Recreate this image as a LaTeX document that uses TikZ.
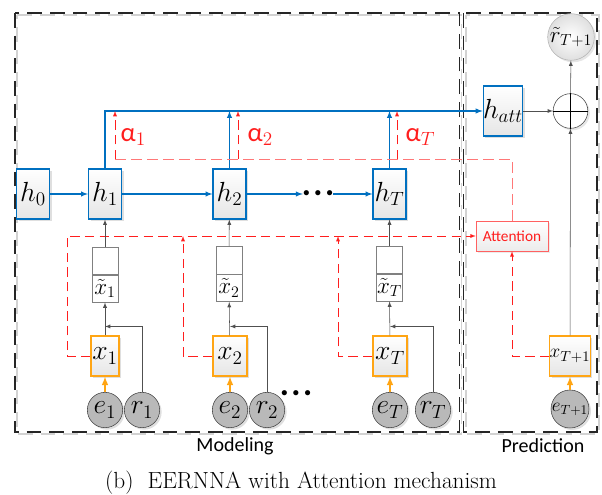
\documentclass[tikz,border=0pt]{standalone}
\usepackage{amsmath}
\usepackage{fontspec}
\usepackage{xcolor}
\usetikzlibrary{shapes,arrows,positioning,calc,shadows}
\newfontfamily\calibri{Carlito}
\definecolor{hblue}{RGB}{0,112,192}
\definecolor{xorange}{RGB}{255,165,20}
\definecolor{attred}{RGB}{255,30,30}
\definecolor{linegray}{RGB}{80,80,80}

\begin{document}
\begin{tikzpicture}[x=0.75pt, y=-0.75pt, >=latex,
    hbox/.style={draw=hblue, thick, rectangle, top color=white, bottom color=gray!20, minimum width=24.75pt, minimum height=37.5pt, inner sep=0pt, drop shadow={opacity=0.25, shadow xshift=1.5pt, shadow yshift=-1.5pt}, font=\fontsize{20}{24}\selectfont},
    xbox/.style={draw=xorange, thick, rectangle, top color=white, bottom color=gray!20, minimum height=30pt, inner sep=0pt, drop shadow={opacity=0.25, shadow xshift=1.5pt, shadow yshift=-1.5pt}, font=\fontsize{20}{24}\selectfont},
    xtbox/.style={draw=gray, rectangle, fill=white, minimum width=19.5pt, minimum height=20.5pt, inner sep=0pt, font=\fontsize{17}{20}\selectfont},
    inball/.style={draw=gray!50!black, circle, fill=gray!55, minimum size=26.5pt, inner sep=0pt, drop shadow={opacity=0.25, shadow xshift=1.5pt, shadow yshift=-1.5pt}, font=\fontsize{20}{24}\selectfont},
    flow/.style={->, draw=hblue, thick},
    feed/.style={->, draw=linegray},
    embed/.style={->, draw=xorange, very thick},
    attn/.style={->, draw=attred, dash pattern=on 7pt off 4pt},
    alabel/.style={text=attred, anchor=west, font=\calibri\fontsize{20}{24}\selectfont},
    dotrow/.style={inner sep=0pt, font=\normalsize},
    frame/.style={draw=black!85, line width=1.2pt, dash pattern=on 11pt off 6pt},
    frameshade/.style={draw=gray!35, line width=1.2pt, dash pattern=on 11pt off 6pt, dash phase=8pt}]
    \useasboundingbox (0,0) rectangle (602,495);

    \draw[frameshade] (17,15) rectangle (461.5,434);
    \draw[frame] (15,13) rectangle (459.5,432);
    \draw[frameshade] (466,15) rectangle (599,434);
    \draw[frame] (463.5,13) rectangle (597,432);

    \node (h0) [hbox] at (33,194) {$h_0$};
    \node (h1) [hbox] at (105,194) {$h_1$};
    \node (h2) [hbox] at (229.5,194) {$h_2$};
    \node (dots) [dotrow] at (318,194) {$\bullet\hspace{1.5pt}\bullet\hspace{1.5pt}\bullet$};
    \node (hT) [hbox] at (389.5,194) {$h_T$};
    \node (hatt) [hbox, minimum width=27pt] at (503,111) {$h_{att}$};
    \node (plus) [draw=gray!50!black, circle, fill=white, minimum size=26pt, inner sep=0pt, drop shadow={opacity=0.2, shadow xshift=1.5pt, shadow yshift=-1.5pt}] at (570.5,111) {};
    \node (rt) [draw=gray!60, circle, inner color=white, outer color=gray!25, minimum size=35pt, inner sep=0pt, drop shadow={opacity=0.2, shadow xshift=1.5pt, shadow yshift=-1.5pt}, font=\fontsize{18}{22}\selectfont] at (571,37) {$\tilde{r}_{T+1}$};
    \node (att) [draw=attred!70, rectangle, top color=white, bottom color=gray!15, minimum width=54pt, minimum height=22.5pt, text=attred, font=\calibri\fontsize{11.5}{14}\selectfont, drop shadow={opacity=0.15, shadow xshift=1.5pt, shadow yshift=-1.5pt}] at (512,236) {Attention};

    \node (xt1) [xtbox] at (105,288.5) {$\tilde{x}_1$};
    \node (xt1c) [xtbox, above=0pt of xt1] {};
    \node (xt2) [xtbox] at (229,288) {$\tilde{x}_2$};
    \node (xt2c) [xtbox, above=0pt of xt2] {};
    \node (xtT) [xtbox] at (389.5,287.5) {$\tilde{x}_T$};
    \node (xtTc) [xtbox, above=0pt of xtT] {};

    \node (x1) [xbox, minimum width=21pt] at (105,356) {$x_1$};
    \node (x2) [xbox, minimum width=25.5pt] at (230,356) {$x_2$};
    \node (xT) [xbox, minimum width=25.5pt] at (390,356) {$x_T$};
    \node (xT1) [xbox, minimum width=28.5pt, font=\fontsize{15}{18}\selectfont] at (570,356) {$x_{T+1}$};

    \node (e1) [inball] at (105,410) {$e_1$};
    \node (r1) [inball] at (142,410) {$r_1$};
    \node (e2) [inball] at (230,410) {$e_2$};
    \node (r2) [inball] at (267,410) {$r_2$};
    \node (bdots) [dotrow] at (296,394) {$\bullet\hspace{1.5pt}\bullet\hspace{1.5pt}\bullet$};
    \node (eT) [inball] at (390,410) {$e_T$};
    \node (rT) [inball] at (433,410) {$r_T$};
    \node (eT1) [inball, font=\fontsize{14}{17}\selectfont] at (570,409) {$e_{T+1}$};

    \node (a1) [alabel] at (116,137) {α$_1$};
    \node (a2) [alabel] at (243,137) {α$_2$};
    \node (aT) [alabel] at (401,137) {α$_T$};

    \node (model) [font=\calibri\fontsize{15}{18}\selectfont] at (235,446) {Modeling};
    \node (pred) [font=\calibri\fontsize{15}{18}\selectfont] at (543,446) {Prediction};
    \node (cap) [font=\fontsize{17.5}{20}\selectfont] at (301,483) {(b)\ \ EERNNA with Attention mechanism};

    \draw[flow] (h0) -- (h1);
    \draw[flow] (h1) -- (h2);
    \draw[flow] (h2) -- (dots);
    \draw[flow] (dots) -- (hT);
    \draw[flow] (h1.north) |- (hatt.west);
    \draw[flow] (h2.north) -- (h2.north |- hatt.west);
    \draw[flow] (hT.north) -- (hT.north |- hatt.west);

    \coordinate (s1) at (115,159);
    \coordinate (s2) at (238,159);
    \coordinate (sT) at (397,159);
    \draw[attred!60, dash pattern=on 8pt off 4pt] (att.north) |- (s1);
    \draw[attn] (s1) -- (s1 |- hatt.west);
    \draw[attn] (s2) -- (s2 |- hatt.west);
    \draw[attn] (sT) -- (sT |- hatt.west);

    \coordinate (c1) at (67,236);
    \coordinate (c2) at (183,236);
    \coordinate (cT) at (338,236);
    \draw[attn] (x1.west) -| (c1) -- (att.west);
    \draw[attn] (x2.west) -| (c2);
    \draw[attn] (xT.west) -| (cT);
    \draw[attn] (xT1.west) -| (att.south);

    \draw[embed] (e1) -- (x1);
    \draw[embed] (e2) -- (x2);
    \draw[embed] (eT) -- (xT);
    \draw[embed] (eT1) -- (xT1);

    \draw[feed] (x1) -- (xt1);
    \draw[feed] (x2) -- (xt2);
    \draw[feed] (xT) -- (xtT);
    \draw[feed] (r1.north) |- ($(x1.north)+(0,-9)$);
    \draw[feed] (r2.north) |- ($(x2.north)+(0,-9)$);
    \draw[feed] (rT.north) |- ($(xT.north)+(0,-9)$);
    \draw[feed] (xt1c) -- (h1);
    \draw[feed] (xt2c) -- (h2);
    \draw[feed] (xtTc) -- (hT);

    \draw[feed] (xT1) -- (plus);
    \draw[feed] (hatt) -- (plus);
    \draw[feed] (plus) -- (rt);
    \draw (plus.north) -- (plus.south);
    \draw (plus.west) -- (plus.east);
\end{tikzpicture}
\end{document}
